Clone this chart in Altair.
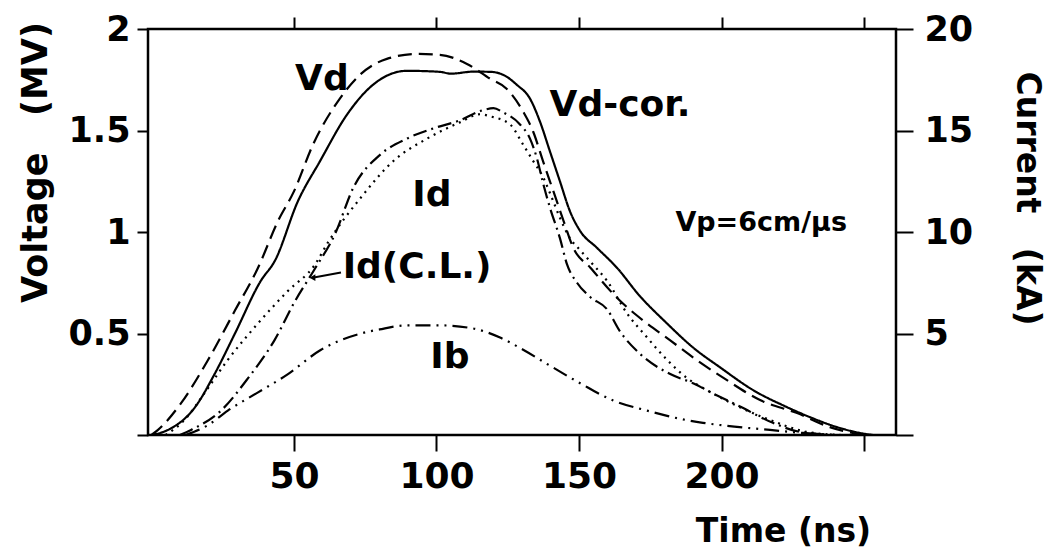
import altair as alt
import pandas as pd

# ---- values ----
# Vd (dashed), Voltage in MV
vd_t = [0, 2.3, 10.4, 19.8, 29.3, 37.4, 44.4, 50, 56.7, 66.1, 73.2, 82.6, 93.2, 101.2, 110.7, 118.8,
        124.6, 130.4, 133.9, 137.4, 141, 144.6, 148, 154, 163.3, 172.5, 182, 191.4, 201.9, 213.5,
        226.5, 238, 246, 252]
vd_v = [0, 0.025, 0.157, 0.368, 0.613, 0.824, 1.054, 1.2, 1.431, 1.657, 1.775, 1.853, 1.877, 1.873,
        1.828, 1.755, 1.706, 1.593, 1.495, 1.348, 1.201, 1.054, 0.922, 0.824, 0.676, 0.564, 0.466,
        0.368, 0.27, 0.172, 0.108, 0.039, 0.01, 0]

# Vd-cor. (solid), Voltage in MV
vdc_t = [0, 5.8, 15.3, 22.3, 29.3, 38.4, 43.3, 51.4, 59.1, 68.6, 77.7, 89.6, 101.2, 105, 113, 118.8,
         123.3, 128.2, 132.8, 136.3, 139.8, 143.3, 146.8, 150.4, 156.3, 163.3, 171, 180.9, 190,
         199.5, 211.1, 223, 231, 240.5, 248.6, 253]
vdc_v = [0, 0.025, 0.137, 0.304, 0.5, 0.76, 0.858, 1.152, 1.348, 1.578, 1.725, 1.794, 1.789, 1.78,
         1.79, 1.789, 1.775, 1.725, 1.657, 1.544, 1.397, 1.25, 1.103, 1.005, 0.922, 0.824, 0.69,
         0.549, 0.431, 0.333, 0.221, 0.137, 0.088, 0.039, 0.01, 0]

# Id (dotted), Current in kA
id_t = [5, 12, 18.8, 26.8, 37.4, 47.9, 57.4, 62, 73.5, 84.9, 96.7, 108.2, 115.3, 118.8, 125.8, 130.4,
        133.9, 137.4, 141, 143.3, 146.8, 150.4, 154.9, 159.8, 166.8, 173.9, 180.9, 187.9, 195, 203,
        217, 230, 242]
id_i = [0, 0.8, 2.1, 3.7, 5.5, 7.1, 8.4, 9.5, 11.7, 13.5, 14.6, 15.4, 15.8, 15.7, 15.3, 14.3, 13.5,
        12.7, 11.5, 10.7, 9.7, 9.1, 8.4, 7.6, 6.0, 4.8, 3.7, 2.8, 2.2, 1.6, 0.74, 0.15, 0]

# Id(C.L.) (dash-dot), Current in kA
idcl_t = [10, 13.9, 24.4, 33.9, 43.3, 50.4, 57.4, 64.4, 70.9, 80.2, 89.6, 98.8, 108.2, 116.3, 120,
          123.3, 129.3, 132.8, 135.3, 137.4, 139.8, 143.3, 145.8, 149.3, 153.9, 159.8, 164.4, 171.4,
          182, 190, 197, 206.5, 218, 227.5, 240]
idcl_i = [0, 0.25, 1.2, 2.8, 4.7, 6.6, 8.2, 9.9, 12.2, 13.8, 14.6, 15.1, 15.5, 16.0, 16.1, 15.9, 15.3,
          14.6, 13.6, 12.4, 11.2, 9.7, 8.4, 7.5, 6.8, 6.2, 5.1, 4.0, 3.0, 2.55, 2.05, 1.4, 0.6, 0.15, 0]

# Ib (dash-dot-dot), Current in kA
ib_t = [12, 20, 26.8, 37.4, 47.9, 59.5, 73.5, 80, 89.6, 101.2, 112.8, 122.3, 130.4, 138.8, 150.4, 162,
        173.9, 185.4, 193.5, 205.4, 217, 228.6, 240]
ib_i = [0, 0.5, 1.2, 2.1, 3.0, 4.2, 5.0, 5.2, 5.4, 5.4, 5.25, 4.8, 4.2, 3.5, 2.55, 1.7, 1.2, 0.8, 0.6,
        0.4, 0.25, 0.1, 0]

# tick values
x_ticks = [50, 100, 150, 200, 250]
v_ticks = [0, 0.5, 1, 1.5, 2]
i_ticks = [0, 5, 10, 15, 20]

# curve labels (data coordinates: time, voltage-scale)
lab_text = ["Vd", "Vd-cor.", "Id", "Id(C.L.)", "Ib"]
lab_t = [59.8, 164.4, 98.4, 93.2, 104.7]
lab_v = [1.755, 1.627, 1.181, 0.828, 0.382]

note_text = ["Vp=6cm/μs"]
note_t = [213.9]
note_v = [1.044]

arrow_t = [66.5, 56.5]
arrow_v = [0.80, 0.775]

FONT = "DejaVu Sans"
X_DOM = [-1.2, 261.2]
NB = "\u00a0"

xs = alt.Scale(domain=X_DOM, nice=False, zero=False)
vs = alt.Scale(domain=[0, 2], nice=False, zero=False)
cs = alt.Scale(domain=[0, 20], nice=False, zero=False)

x_bottom = alt.Axis(values=x_ticks, labelExpr="datum.value == 250 ? '' : datum.label",
                    tickSize=16, tickWidth=2, tickColor="black", domain=False, grid=False,
                    labelFont=FONT, labelFontWeight="bold", labelFontSize=36, labelColor="black",
                    labelPadding=8, title="Time (ns)", titleFont=FONT, titleFontWeight="bold",
                    titleFontSize=33, titleColor="black", titleX=635, titleY=96,
                    titleAnchor="middle", titleAlign="center", titleBaseline="middle")
x_top = alt.Axis(orient="top", values=x_ticks, labels=False, tickSize=12, tickWidth=2,
                 tickColor="black", domain=False, grid=False, title=None)
y_left = alt.Axis(values=v_ticks, labelExpr="datum.value == 0 ? '' : format(datum.value, '~g')",
                  tickSize=11, tickWidth=2, tickColor="black", domain=False, grid=False,
                  labelFont=FONT, labelFontWeight="bold", labelFontSize=35, labelColor="black",
                  labelPadding=7, title="Voltage" + NB * 3 + "(MV)", titleFont=FONT,
                  titleFontWeight="bold", titleFontSize=35, titleColor="black", titleAngle=-90,
                  titleX=-113, titleY=133, titleAlign="center", titleBaseline="middle")
y_right = alt.Axis(orient="right", values=i_ticks,
                   labelExpr="datum.value == 0 ? '' : datum.label",
                   tickSize=17, tickWidth=2, tickColor="black", domain=False, grid=False,
                   labelFont=FONT, labelFontWeight="bold", labelFontSize=35, labelColor="black",
                   labelPadding=11, title="Current" + NB * 3 + "(kA)", titleFont=FONT,
                   titleFontWeight="bold", titleFontSize=33, titleColor="black", titleAngle=90,
                   titleX=130, titleY=169, titleAlign="center", titleBaseline="middle")


def enc(chart, yname, yscale, xaxis=None, yaxis=None):
    return chart.encode(
        x=alt.X("t:Q", scale=xs, axis=xaxis),
        y=alt.Y(f"{yname}:Q", scale=yscale, axis=yaxis),
    )


def line(t, v, dash, yname, yscale, xaxis=None, yaxis=None):
    df = pd.DataFrame({"t": t, yname: v})
    base = alt.Chart(df).mark_line(color="black", strokeWidth=2.2, strokeDash=dash,
                                   interpolate="monotone", clip=True)
    return enc(base, yname, yscale, xaxis, yaxis)


vd_line = line(vd_t, vd_v, [14, 7], "V", vs, xaxis=x_bottom, yaxis=y_left)
vdc_line = line(vdc_t, vdc_v, [1, 0], "V", vs)
id_line = line(id_t, id_i, [2, 5], "I", cs, xaxis=x_top, yaxis=y_right)
idcl_line = line(idcl_t, idcl_i, [14, 5, 2, 5], "I", cs)
ib_line = line(ib_t, ib_i, [15, 6, 2, 6, 2, 6], "I", cs)

lab_df = pd.DataFrame({"t": lab_t, "V": lab_v, "txt": lab_text})
labels = enc(alt.Chart(lab_df).mark_text(font=FONT, fontWeight="bold", fontSize=36, color="black",
                                         align="center", baseline="middle"), "V", vs).encode(
    text="txt:N")

note_df = pd.DataFrame({"t": note_t, "V": note_v, "txt": note_text})
note = enc(alt.Chart(note_df).mark_text(font=FONT, fontWeight="bold", fontSize=27, color="black",
                                        align="center", baseline="middle"), "V", vs).encode(
    text="txt:N")

arr_df = pd.DataFrame({"t": arrow_t, "V": arrow_v})
arrow = enc(alt.Chart(arr_df).mark_line(color="black", strokeWidth=2), "V", vs)
arrow_head = enc(alt.Chart(arr_df.tail(1)).mark_point(shape="triangle-left", filled=True, size=45,
                                                     color="black", opacity=1), "V", vs)

chart = alt.layer(
    vd_line, vdc_line, id_line, idcl_line, ib_line, labels, note, arrow, arrow_head
).resolve_scale(y="independent").resolve_axis(
    x="independent", y="independent"
).properties(
    width=748, height=406,
    autosize=alt.AutoSizeParams(type="none"),
    padding={"left": 140, "top": 21, "right": 155, "bottom": 115},
    background="white",
).configure_view(stroke="black", strokeWidth=2.5)

chart.save("out.html", embed_options={"renderer": "svg", "actions": False})
